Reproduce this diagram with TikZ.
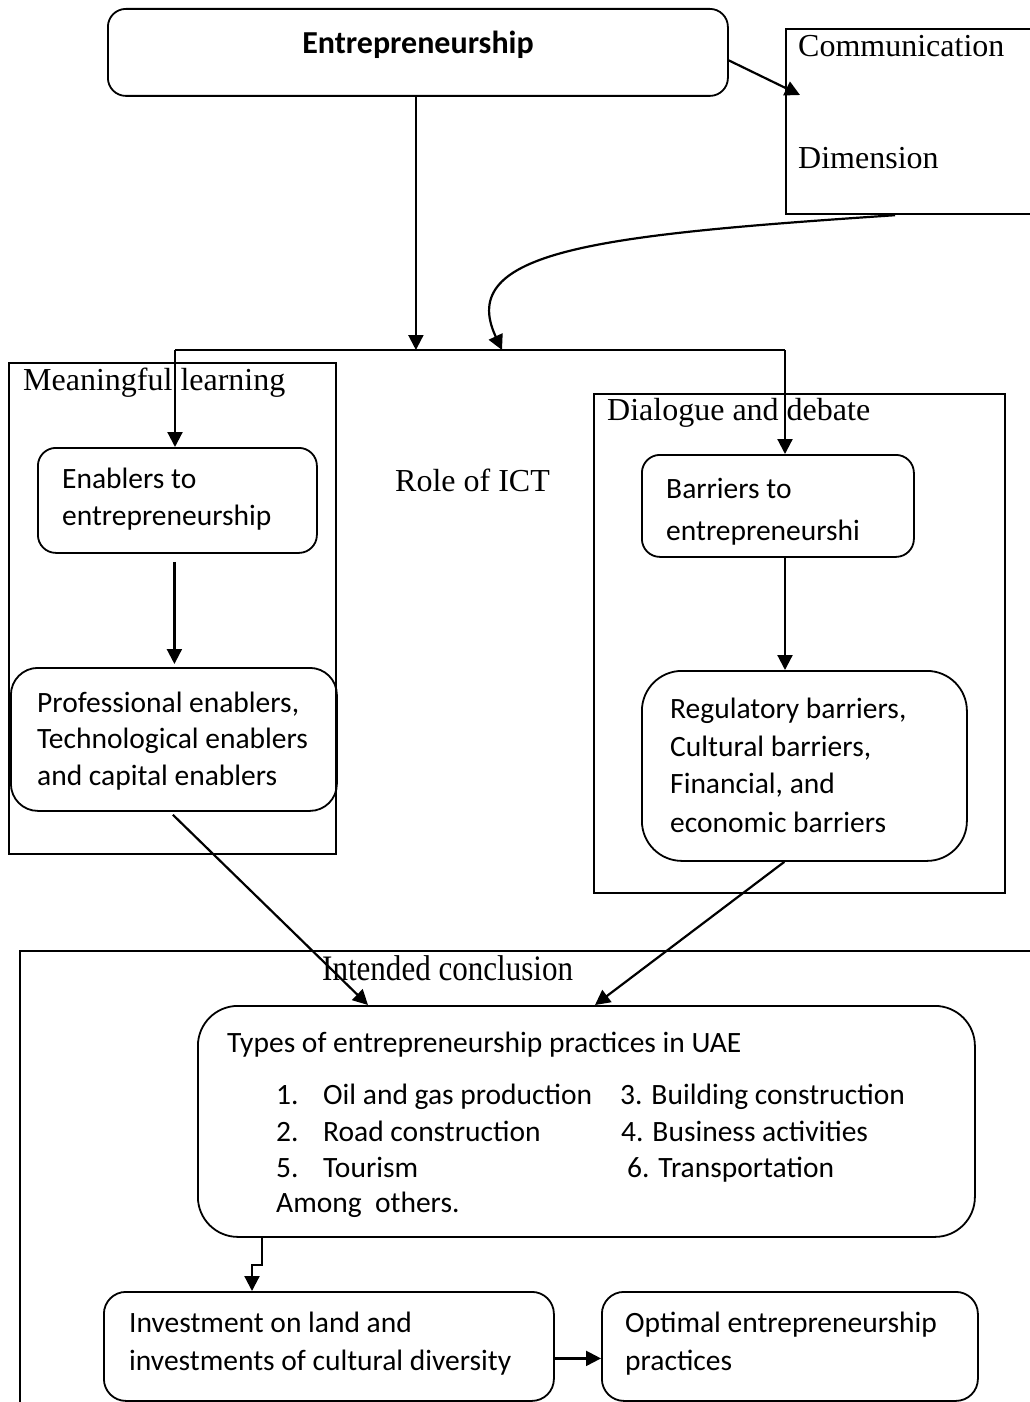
\documentclass[tikz,border=0pt]{standalone}
\usepackage{fontspec}
\setmainfont{Liberation Serif}
\newfontfamily\carl{Carlito}
\usetikzlibrary{arrows.meta}
\newcommand\sansfnt{\carl\fontsize{29.5}{35}\selectfont}
\newcommand\seriffnt{\rmfamily\fontsize{32}{38}\selectfont}
\tikzset{
  rbox/.style={draw, line width=1.8pt, anchor=north west, inner sep=0pt},
  sbox/.style={draw, line width=2.2pt, anchor=north west, inner sep=0pt},
  sanstxt/.style={font=\sansfnt, anchor=base west, inner sep=0pt},
  seriftxt/.style={font=\seriffnt, anchor=base west, inner sep=0pt},
  arr/.style={line width=2.2pt, -{Triangle[length=15pt,width=15pt]}},
  conn/.style={line width=2.2pt}
}
\begin{document}
\begin{tikzpicture}[x=1pt,y=-1pt]
\useasboundingbox (0,0) rectangle (1030,1402);
\clip (0,0) rectangle (1030,1402);
% boxes
\node[rbox, rounded corners=18pt, minimum width=620pt, minimum height=87pt] (ent) at (107,8) {};
\node[sbox, minimum width=260pt, minimum height=185pt] (comm) at (785,28) {};
\node[sbox, minimum width=327pt, minimum height=491pt] (ml) at (8,362) {};
\node[rbox, rounded corners=18pt, minimum width=279pt, minimum height=105pt] (enab) at (37,447) {};
\node[rbox, rounded corners=27pt, minimum width=326pt, minimum height=143pt] (prof) at (10,667) {};
\node[sbox, minimum width=411pt, minimum height=499pt] (dd) at (593,393) {};
\node[rbox, rounded corners=18pt, minimum width=272pt, minimum height=102pt] (barr) at (641,454) {};
\node[rbox, rounded corners=40pt, minimum width=325pt, minimum height=190pt] (reg) at (641,670) {};
\node[sbox, minimum width=1040pt, minimum height=480pt] (ic) at (19,950) {};
\node[rbox, rounded corners=40pt, minimum width=777pt, minimum height=231pt] (types) at (197,1005) {};
\node[rbox, rounded corners=22pt, minimum width=450pt, minimum height=109pt] (inv) at (103,1291) {};
\node[rbox, rounded corners=22pt, minimum width=376pt, minimum height=109pt] (opt) at (601,1291) {};
% texts
\node[font=\carl\bfseries\fontsize{32}{36}\selectfont, anchor=base, inner sep=0pt] (entT) at (418,54) {Entrepreneurship};
\node[seriftxt] (commT1) at (798,57) {Communication};
\node[seriftxt] (commT2) at (798,168) {Dimension};
\node[seriftxt] (mlT) at (23,390) {Meaningful learning};
\node[seriftxt] (ict) at (395,491) {Role of ICT};
\node[seriftxt] (ddT) at (607,420) {Dialogue and debate};
\node[seriftxt] (icT) at (322,980) {\scalebox{0.97}[1.12]{Intended conclusion}};
\node[sanstxt] (enabT1) at (62,488) {Enablers to};
\node[sanstxt] (enabT2) at (62,525) {entrepreneurship};
\node[sanstxt] (profT1) at (37,712) {Professional enablers,};
\node[sanstxt] (profT2) at (37,748) {Technological enablers};
\node[sanstxt] (profT3) at (37,785) {and capital enablers};
\node[sanstxt] (barrT1) at (666,498) {Barriers to};
\node[sanstxt] (barrT2) at (666,540) {entrepreneurshi};
\node[sanstxt] (regT1) at (670,718) {Regulatory barriers,};
\node[sanstxt] (regT2) at (670,756) {Cultural barriers,};
\node[sanstxt] (regT3) at (670,793) {Financial, and};
\node[sanstxt] (regT4) at (670,832) {economic barriers};
\node[sanstxt] (tyT) at (227,1052) {Types of entrepreneurship practices in UAE};
\node[sanstxt] (n1) at (276,1104) {1.};
\node[sanstxt] (i1) at (323,1104) {Oil and gas production};
\node[sanstxt] (i3) at (620,1104) {3. Building construction};
\node[sanstxt] (n2) at (276,1141) {2.};
\node[sanstxt] (i2) at (323,1141) {Road construction};
\node[sanstxt] (i4) at (621,1141) {4. Business activities};
\node[sanstxt] (n5) at (276,1177) {5.};
\node[sanstxt] (i5) at (323,1177) {Tourism};
\node[sanstxt] (i6) at (627,1177) {6. Transportation};
\node[sanstxt] (among) at (276,1212) {Among\ \ others.};
\node[sanstxt] (invT1) at (129,1332) {Investment on land and};
\node[sanstxt] (invT2) at (129,1370) {investments of cultural diversity};
\node[sanstxt] (optT1) at (625,1332) {Optimal entrepreneurship};
\node[sanstxt] (optT2) at (625,1370) {practices};
% junction coordinates
\coordinate (jL) at (175,350);
\coordinate (jR) at (785,350);
\coordinate (jC) at (502,350);
\coordinate (commIn) at (800,95);
% connectors
\draw[arr] ([yshift=-8pt]ent.east) -- (commIn);
\draw[conn] (jL) -- (jR);
\draw[arr] ([xshift=-2pt]ent.south) -- ([xshift=-2pt]ent.south |- jL);
\draw[arr] ([xshift=-21pt]comm.south) .. controls (600,235) and (455,250) .. (jC);
\draw[arr] (jL) -- (jL |- enab.north);
\draw[arr] (jR) -- (jR |- barr.north);
\draw[arr, shorten <=8pt, shorten >=3pt] ([xshift=-3pt]enab.south) -- ([xshift=-3pt]enab.south |- prof.north);
\draw[arr] (jR |- barr.south) -- (jR |- reg.north);
\draw[arr] ([xshift=-1pt,yshift=-3pt]prof.south) -- ([xshift=171pt]types.north west);
\draw[arr] ([xshift=-20pt]reg.south) -- ([xshift=398pt]types.north west);
\draw[arr] ([xshift=65pt]types.south west) -- ++(0,27) -| ([xshift=149pt]inv.north west);
\draw[arr] ([yshift=-12pt]inv.east) -- ([yshift=-12pt]opt.west);
\end{tikzpicture}
\end{document}
